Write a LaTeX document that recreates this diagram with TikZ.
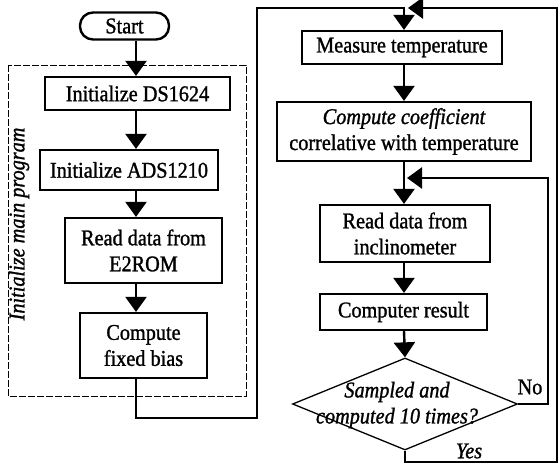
\documentclass[tikz,border=0pt]{standalone}
\usepackage{fontspec}
\setmainfont{Liberation Serif}[FakeStretch=0.9, FakeBold=1.2]
\usetikzlibrary{arrows.meta,shapes.geometric,calc}
\begin{document}
\begin{tikzpicture}[x=1pt,y=-1pt,
  every node/.style={font=\fontsize{22.5}{26}\selectfont, inner sep=0pt, align=center},
  proc/.style={draw, line width=2.2pt, rectangle},
  term/.style={draw, line width=2.4pt, rectangle, rounded corners=13pt},
  decide/.style={draw, line width=1.3pt, diamond},
  flow/.style={line width=2.4pt},
  arr/.style={flow, -{Triangle[width=21pt,length=15pt]}},
  frame/.style={draw, line width=0.8pt, dash pattern=on 7pt off 2pt},
]
\useasboundingbox (0,0) rectangle (558,468);

% columns of the two flows
\coordinate (colL) at (136,0);
\coordinate (colR) at (404,0);

% initialisation part
\draw[frame] (8,65) rectangle (246,396);
\node[rotate=90, font=\fontsize{22.5}{26}\selectfont\itshape] (lbl) at (19,224) {Initialize main program};

\node[term, minimum width=89pt, minimum height=27pt] (start) at (124.5,26) {Start};
\node[proc, minimum width=185pt, minimum height=33pt] (init1) at (137.5,93.5) {Initialize DS1624};
\node[proc, minimum width=178pt, minimum height=40pt] (init2) at (129,170) {Initialize ADS1210};
\node[proc, minimum width=157pt, minimum height=65pt] (rdrom) at (143.5,250.5) {Read data from\\E2ROM};
\node[proc, minimum width=127pt, minimum height=65pt] (bias) at (143.5,345.5) {Compute\\fixed bias};

% measuring part
\node[proc, minimum width=200pt, minimum height=33pt] (meas) at (402,47.5) {Measure temperature};
\node[proc, minimum width=254pt, minimum height=59pt] (coef) at (404,131.5) {{\itshape Compute coefficient}\\correlative with temperature};
\node[proc, minimum width=170pt, minimum height=57pt] (rdinc) at (405,233.5) {Read data from\\inclinometer};
\node[proc, minimum width=167pt, minimum height=36pt] (res) at (403.5,312) {Computer result};
\node[decide, minimum width=225pt, minimum height=92pt] (dec) at (405,404) {};
\node[font=\fontsize{22.5}{26}\selectfont\itshape] (dectxt) at (397,405) {Sampled and\\computed 10 times?};
\node (no) at (530,387) {No};
\node[font=\fontsize{22.5}{26}\selectfont\itshape] (yes) at (469,451) {Yes};

% loop corner points
\coordinate (botL) at (257,418);
\coordinate (topL) at (257,8);
\coordinate (noR) at (548,178);
\coordinate (noIn) at (407,178);
\coordinate (yesB) at (557,462);
\coordinate (yesT) at (557,8);
\coordinate (yesIn) at (408,8);

% connectors, left column
\draw[arr] (start.south -| colL) -- (init1.north -| colL);
\draw[arr] (init1.south -| colL) -- (init2.north -| colL);
\draw[arr] (init2.south -| colL) -- (rdrom.north -| colL);
\draw[arr] (rdrom.south -| colL) -- (bias.north -| colL);
\draw[arr] (bias.south -| colL) |- (botL) -- (topL) -| (meas.north -| colR);

% connectors, right column
\draw[arr] (meas.south -| colR) -- (coef.north -| colR);
\draw[arr] (coef.south -| colR) -- (rdinc.north -| colR);
\draw[arr] (rdinc.south -| colR) -- (res.north -| colR);
\draw[arr] (res.south -| colR) -- (dec.north);
\draw[arr] (dec.east) -| (noR) -- (noIn);
\draw[arr] (dec.south) |- (yesB) -- (yesT) -- (yesIn);
\end{tikzpicture}
\end{document}
